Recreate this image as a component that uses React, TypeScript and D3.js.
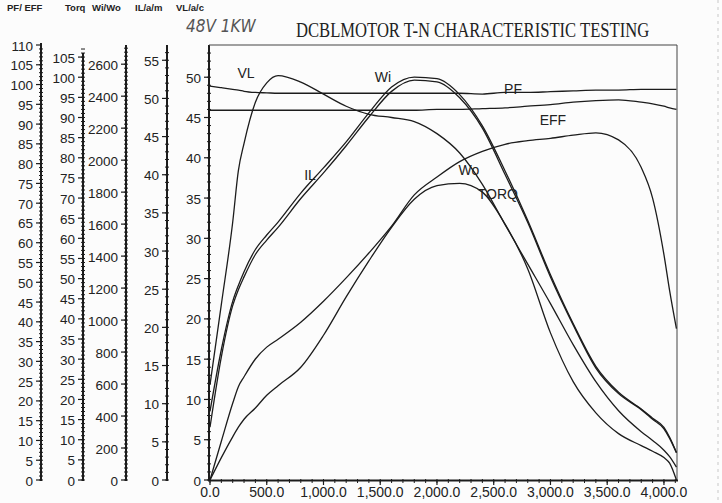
import * as d3 from 'd3'
import React from 'react'

// speed (rpm) and the seven curves, each in its own axis units
const speed = [0, 100, 200, 250, 300, 400, 500, 600, 800, 1000, 1200, 1400, 1600, 1800, 2000, 2200, 2400, 2600, 2800, 3000, 3200, 3400, 3600, 3800, 3900, 4000, 4050, 4110]
const pf = [99.6, 99.2, 98.8, 98.6, 98.3, 98.0, 97.9, 97.8, 97.8, 97.8, 97.8, 97.8, 97.8, 97.8, 97.8, 97.8, 97.6, 98.0, 98.0, 98.2, 98.4, 98.6, 98.6, 98.8, 98.8, 98.8, 98.8, 98.8]
const eff = [0, 9.8, 19.4, 23.6, 26.1, 30.6, 33.6, 35.6, 39.9, 45.2, 51.1, 57.4, 64.2, 72.1, 76.6, 80.5, 83.1, 84.9, 85.8, 86.4, 87.2, 87.8, 86.0, 79.0, 71.3, 57.0, 47.9, 38.3]
const torq = [23.6, 43.6, 64.0, 76.8, 83.6, 93.8, 98.6, 100.4, 98.8, 95.8, 92.8, 90.8, 90.0, 89.0, 86.0, 81.2, 73.4, 63.4, 53.6, 43.8, 33.6, 24.4, 17.2, 12.0, 9.8, 7.4, 5.8, 3.2]
const wi = [330, 770, 1090, 1190, 1270, 1410, 1500, 1580, 1760, 1920, 2090, 2270, 2430, 2500, 2490, 2390, 2200, 1910, 1610, 1270, 970, 700, 540, 440, 380, 320, 260, 170]
const wo = [0, 140, 270, 330, 380, 450, 530, 590, 705, 905, 1145, 1370, 1580, 1755, 1840, 1855, 1800, 1600, 1320, 920, 615, 420, 290, 215, 180, 140, 105, 0]
const il = [9.0, 17.1, 23.4, 25.5, 27.3, 30.2, 32.1, 33.8, 37.6, 40.9, 44.3, 48.1, 51.5, 52.8, 52.6, 50.5, 46.4, 40.5, 34.0, 26.9, 20.5, 14.9, 11.5, 9.3, 8.1, 6.9, 5.6, 3.6]
const vl = [45.9, 45.9, 45.9, 45.9, 45.9, 45.9, 45.9, 45.9, 45.9, 45.9, 45.9, 45.9, 45.9, 45.9, 46.0, 46.0, 46.1, 46.2, 46.4, 46.6, 46.9, 47.1, 47.2, 46.9, 46.7, 46.4, 46.2, 46.0]

const pfEffTicks = d3.range(0, 111, 5)
const torqTicks = d3.range(0, 106, 5)
const wiWoTicks = d3.range(0, 2601, 200)
const ilTicks = d3.range(0, 56, 5)
const vlTicks = d3.range(0, 51, 5)
const speedTicks = d3.range(0, 4001, 500)
const axisTitles = ['PF/ EFF', 'Torq', 'Wi/Wo', 'IL/a/m', 'VL/a/c']

const left = 210
const right = 677
const top = 45
const bottom = 480
const ink = '#1c1c1c'
const sans = '"Liberation Sans", Arial, sans-serif'

const LeftAxis = ({ scale, ticks, ax, step, lineTop }) => {
  const minor = d3.range(0, scale.domain()[1], step)
  return (
    <g>
      <line x1={ax} x2={ax} y1={lineTop} y2={bottom + 1} stroke={ink} strokeWidth={2} />
      {minor.map(m => (
        <line key={'m' + m} x1={ax - 2} x2={ax + 2} y1={scale(m)} y2={scale(m)} stroke={ink} strokeWidth={1} />
      ))}
      {ticks.map(t => (
        <g key={t}>
          <line x1={ax - 5} x2={ax + 1} y1={scale(t)} y2={scale(t)} stroke={ink} strokeWidth={1.2} />
          <text x={ax - 8} y={scale(t) + 5.5} textAnchor="end" fontSize={13.5} fontFamily={sans} fill="#222">{t}</text>
        </g>
      ))}
    </g>
  )
}

const App = () => {
  const x = d3.scaleLinear().domain([0, 4115]).range([left, right])
  const yVl = d3.scaleLinear().domain([0, 54]).range([bottom, top])
  const yPf = d3.scaleLinear().domain([0, 110]).range([bottom, top])
  const yTorq = d3.scaleLinear().domain([0, 108]).range([bottom, top])
  const yW = d3.scaleLinear().domain([0, 2720]).range([bottom, top])
  const yIl = d3.scaleLinear().domain([0, 57]).range([bottom, top])

  const path = (vals, y) =>
    d3.line<number>()
      .x((d, i) => x(speed[i]))
      .y(d => y(d))
      .curve(d3.curveMonotoneX)(vals)

  const series = [
    { vals: pf, y: yPf },
    { vals: vl, y: yVl },
    { vals: eff, y: yPf },
    { vals: torq, y: yTorq },
    { vals: wo, y: yW },
    { vals: il, y: yIl },
    { vals: wi, y: yW },
  ]

  // curve labels placed in speed / VL-axis units
  const labels = [
    { t: 'VL', s: 317, v: 50.5 },
    { t: 'Wi', s: 1524, v: 50.0 },
    { t: 'PF', s: 2670, v: 48.5 },
    { t: 'EFF', s: 3022, v: 44.7 },
    { t: 'IL', s: 881, v: 37.9 },
    { t: 'Wo', s: 2282, v: 38.5 },
    { t: 'TORQ', s: 2537, v: 35.5 },
  ]

  const fmt = d3.format(',.1f')
  const titleX = [7, 65, 92, 135, 176]

  return (
    <div style={{ position: 'absolute', left: 0, top: 0 }}>
      <svg width={722} height={503} style={{ display: 'block' }}>
        <rect width={722} height={503} fill="#fcfcfc" />
        <line x1={718} x2={718} y1={0} y2={503} stroke="#c8c8c8" strokeDasharray="3 4" />

        {axisTitles.map((t, i) => (
          <text key={t} x={titleX[i]} y={11} fontSize={9.5} fontWeight="bold" fontFamily={sans} fill="#222">{t}</text>
        ))}

        <text transform="translate(186,32) scale(0.85,1)" fontSize={18} fontStyle="italic"
          fontFamily='"DejaVu Sans", sans-serif' fill="#555">48V 1KW</text>
        <text transform="translate(296,37) scale(0.755,1)" fontSize={22}
          fontFamily='"Liberation Serif", serif' fill="#222">DCBLMOTOR T-N CHARACTERISTIC TESTING</text>

        <LeftAxis scale={yPf} ticks={pfEffTicks} ax={41} step={1} lineTop={43} />
        <LeftAxis scale={yTorq} ticks={torqTicks} ax={83} step={1} lineTop={53} />
        <LeftAxis scale={yW} ticks={wiWoTicks} ax={126} step={25} lineTop={45} />
        <LeftAxis scale={yIl} ticks={ilTicks} ax={167} step={1} lineTop={45} />
        <LeftAxis scale={yVl} ticks={vlTicks} ax={left - 1} step={1} lineTop={top} />

        <line x1={left - 1} x2={right} y1={top} y2={top} stroke="#444" strokeWidth={1} />
        <line x1={right} x2={right} y1={top} y2={bottom} stroke="#444" strokeWidth={1} />
        <line x1={left - 2} x2={right + 1} y1={bottom + 0.5} y2={bottom + 0.5} stroke={ink} strokeWidth={2} />
        {d3.range(0, 4101, 100).map(s => (
          <line key={'xm' + s} x1={x(s)} x2={x(s)} y1={bottom - 1} y2={bottom + 3} stroke={ink} strokeWidth={1} />
        ))}
        {speedTicks.map(s => (
          <g key={s}>
            <line x1={x(s)} x2={x(s)} y1={bottom} y2={bottom + 5} stroke={ink} strokeWidth={1.2} />
            <text x={x(s)} y={497} textAnchor="middle" fontSize={14} fontFamily={sans} fill="#222">{fmt(s)}</text>
          </g>
        ))}

        {series.map((d, i) => (
          <path key={i} d={path(d.vals, d.y)} fill="none" stroke={ink} strokeWidth={1.3} />
        ))}

        {labels.map(l => (
          <text key={l.t} x={x(l.s)} y={yVl(l.v)} textAnchor="middle" dominantBaseline="central"
            fontSize={14} fontFamily={sans} fill="#222">{l.t}</text>
        ))}
      </svg>
    </div>
  )
}

export default App
